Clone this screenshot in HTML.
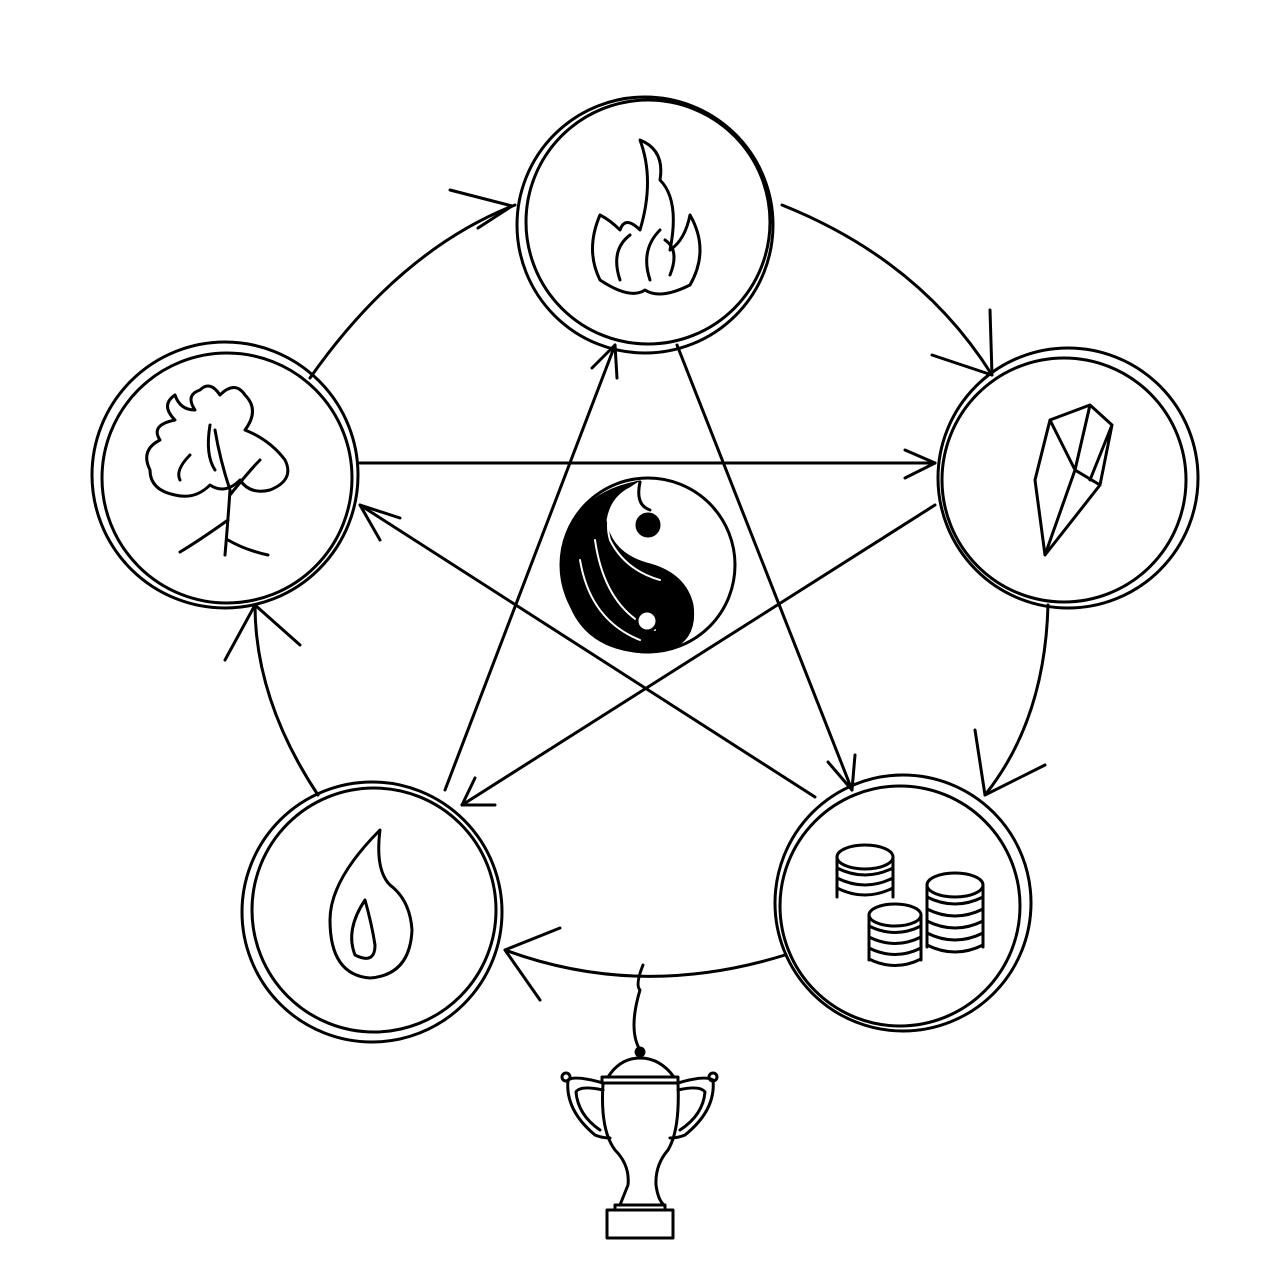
<!DOCTYPE html>
<html><head><meta charset="utf-8"><style>html,body{margin:0;padding:0;background:#fff}svg{display:block}</style></head>
<body>
<svg width="1280" height="1280" viewBox="0 0 1280 1280" xmlns="http://www.w3.org/2000/svg" fill="none" stroke="#000" stroke-width="3" stroke-linecap="round" stroke-linejoin="round">
<!-- outer cycle arcs -->
<path d="M310 378 Q400 250 515 205"/>
<path d="M450 190 L512 206 L478 228"/>
<path d="M782 205 Q920 260 992 375"/>
<path d="M932 355 L992 375 L990 310"/>
<path d="M1048 605 Q1045 720 985 795"/>
<path d="M975 730 L985 795 L1045 765"/>
<path d="M785 955 Q640 1000 505 950"/>
<path d="M560 928 L505 950 L540 1000"/>
<path d="M318 795 Q255 700 255 605"/>
<path d="M225 660 L255 605 L300 645"/>
<!-- star lines -->
<line x1="360" y1="463" x2="935" y2="463"/>
<path d="M905 450 L935 463 L905 478"/>
<line x1="935" y1="505" x2="462" y2="805"/>
<path d="M475 778 L462 805 L495 805"/>
<line x1="445" y1="790" x2="615" y2="345"/>
<path d="M592 368 L615 345 L617 378"/>
<line x1="677" y1="345" x2="852" y2="790"/>
<path d="M828 762 L852 790 L855 755"/>
<line x1="815" y1="797" x2="360" y2="505"/>
<path d="M400 518 L360 505 L380 540"/>
<!-- node circles -->
<g>
<circle cx="645" cy="225" r="128"/><circle cx="648" cy="222" r="122"/>
<circle cx="1068" cy="478" r="130"/><circle cx="1064" cy="480" r="122"/>
<circle cx="903" cy="903" r="128"/><circle cx="900" cy="906" r="120"/>
<circle cx="372" cy="912" r="130"/><circle cx="374" cy="910" r="122"/>
<circle cx="225" cy="475" r="133"/><circle cx="227" cy="478" r="125"/>
</g>
<!-- fire -->
<path d="M600 215 Q585 250 600 280 Q630 300 645 290 Q660 300 690 285 Q710 250 690 215 Q685 240 670 250 Q680 200 660 180 Q665 150 640 140 Q655 180 640 230 Q625 215 620 230 Q610 220 600 215Z"/>
<path d="M620 280 Q610 250 630 235 M650 280 Q640 250 660 230 M670 275 Q680 250 665 240"/>
<!-- crystal -->
<path d="M1090 405 L1112 425 L1100 485 L1045 555 L1035 480 L1050 420 Z M1090 405 L1075 470 L1045 555 M1050 420 L1075 470 M1100 485 L1075 470 M1112 425 L1090 480"/>
<!-- coins -->
<g>
<ellipse cx="865" cy="857" rx="28" ry="12"/><path d="M837 857 v40 M893 857 v40 M837 868 q28 14 56 0 M837 878 q28 14 56 0 M837 888 q28 14 56 0"/>
<ellipse cx="955" cy="885" rx="28" ry="12"/><path d="M927 885 v62 M983 885 v62 M927 897 q28 14 56 0 M927 909 q28 14 56 0 M927 921 q28 14 56 0 M927 933 q28 14 56 0 M927 945 q28 14 56 0"/>
<ellipse cx="895" cy="915" rx="26" ry="11"/><path d="M869 915 v45 M921 915 v45 M869 926 q26 13 52 0 M869 937 q26 13 52 0 M869 948 q26 13 52 0 M869 959 q26 13 52 0"/>
</g>
<!-- water -->
<path d="M380 830 Q330 880 330 920 Q330 975 370 978 Q410 975 412 930 Q410 900 390 885 Q375 870 380 830Z"/>
<path d="M365 900 Q345 930 355 955 Q375 965 375 945 Q372 925 365 900Z"/>
<!-- tree -->
<path d="M225 555 Q228 520 230 490 Q220 460 215 430 M230 495 Q250 470 260 460 M228 520 Q200 540 180 552 M228 540 Q245 550 268 555"/>
<path d="M175 420 Q160 405 175 395 Q180 410 195 410 Q185 395 200 390 Q210 380 220 395 Q235 380 245 395 Q260 410 245 430 Q270 440 285 460 Q295 480 270 490 Q250 495 240 480 Q225 495 210 485 Q195 500 175 495 Q150 490 150 470 Q140 450 160 440 Q150 425 175 420Z"/>
<path d="M210 425 Q205 455 215 470 M190 455 Q175 470 180 480"/>
<!-- yin yang -->
<circle cx="648" cy="565" r="87"/>
<path d="M640 482 Q565 495 563 570 Q570 650 648 652 Q698 650 692 605 Q685 575 650 565 Q610 555 605 520 Q610 490 640 482Z" fill="#000"/>
<path d="M640 482 Q600 505 610 540 Q625 570 660 580" stroke="#fff" stroke-width="2"/>
<path d="M580 560 Q590 620 640 640 M595 540 Q605 610 655 630" stroke="#fff" stroke-width="2"/>
<circle cx="647" cy="621" r="10" fill="#fff"/>
<path d="M640 482 Q635 505 650 510"/>
<circle cx="648" cy="525" r="11" fill="#000"/>
<!-- trophy hook -->
<path d="M643 965 Q635 985 640 990 Q628 1030 640 1050"/>
<circle cx="640" cy="1052" r="4" fill="#000"/>
<!-- trophy -->
<path d="M608 1077 Q620 1058 640 1058 Q660 1058 674 1077"/>
<path d="M602 1077 H678 V1083 H602 Z"/>
<path d="M603 1084 Q600 1130 615 1150 Q630 1165 628 1185 Q622 1200 620 1205 H664 Q658 1200 656 1185 Q655 1165 668 1150 Q680 1130 678 1084"/>
<path d="M603 1083 Q575 1075 568 1080 Q565 1110 595 1135 Q602 1138 610 1138 M603 1090 Q580 1085 576 1092 Q578 1115 600 1130"/>
<path d="M678 1083 Q705 1075 713 1080 Q716 1110 685 1135 Q678 1138 670 1138 M678 1090 Q700 1085 705 1092 Q703 1115 680 1130"/>
<circle cx="566" cy="1077" r="4"/><circle cx="713" cy="1077" r="4"/>
<rect x="607" y="1210" width="66" height="28"/>
<path d="M615 1205 H665 V1210 H615Z"/>
</svg>
</body></html>
